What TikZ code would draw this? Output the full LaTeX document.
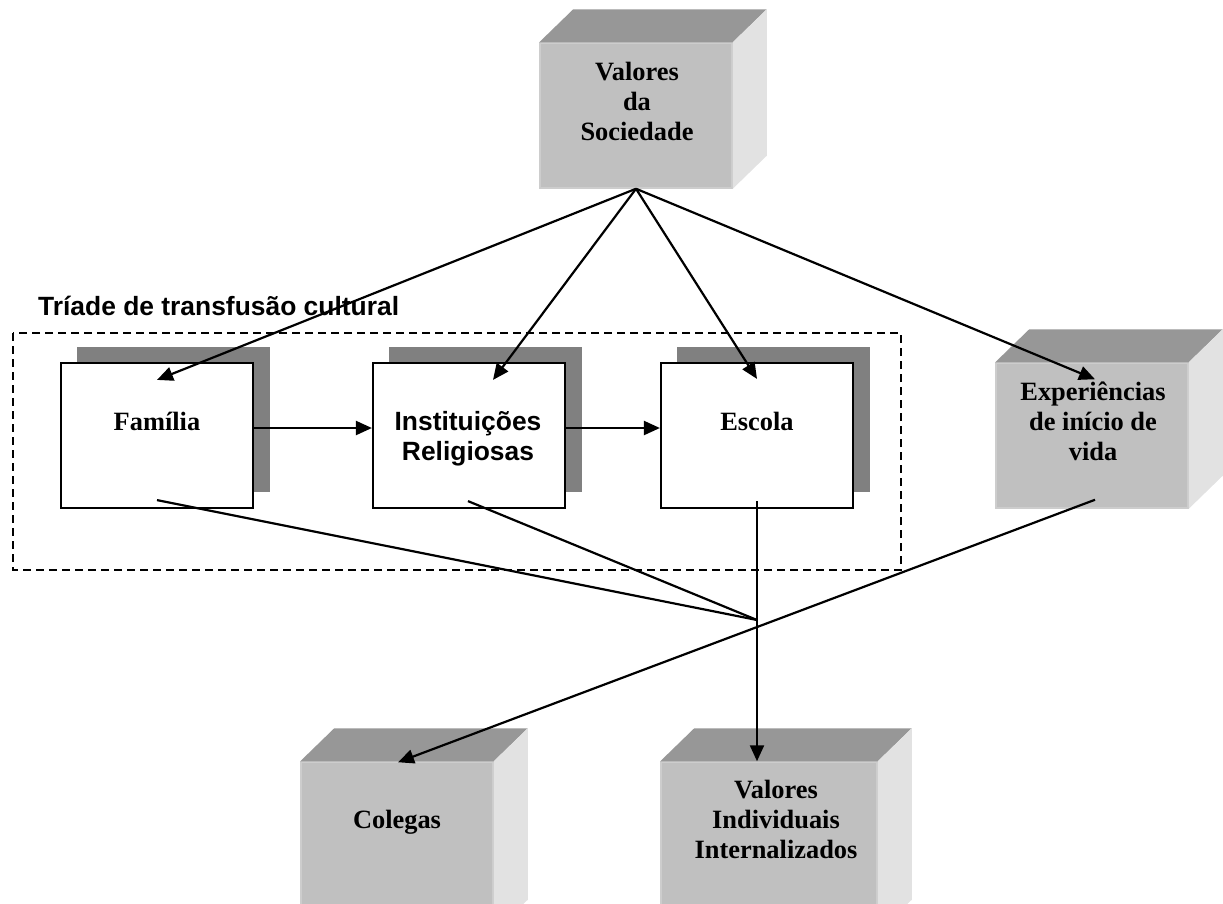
\documentclass[tikz,border=0pt]{standalone}
\usepackage{fontspec}
\setmainfont{Liberation Serif}
\setsansfont{Liberation Sans}
\usetikzlibrary{arrows.meta,calc}

\definecolor{frontgrey}{HTML}{C0C0C0}
\definecolor{rimgrey}{HTML}{CDCDCD}
\definecolor{topgrey}{HTML}{979797}
\definecolor{sidegrey}{HTML}{E2E2E2}
\definecolor{shadowgrey}{HTML}{808080}

\tikzset{
  cubefront/.style={rectangle, inner sep=0pt, fill=frontgrey, draw=rimgrey, line width=1.5pt},
  cubetop/.style={fill=topgrey},
  cubeside/.style={fill=sidegrey},
  shadowbox/.style={fill=shadowgrey},
  plainbox/.style={rectangle, inner sep=0pt, fill=white, draw=black, line width=2.2pt,
    minimum width=192pt, minimum height=145pt},
  serifbold/.style={inner sep=0pt, align=center,
    font=\rmfamily\bfseries\fontsize{26.4}{30}\selectfont},
  sansbold/.style={inner sep=0pt, align=center,
    font=\sffamily\bfseries\fontsize{26.4}{30}\selectfont},
  link/.style={line width=2.2pt, draw=black},
  arrowlink/.style={link, -{Triangle[length=16pt,width=14pt]}},
  triadframe/.style={draw=black, line width=1.8pt, dash pattern=on 8pt off 5pt},
}

% top and right faces of a three-dimensional box built on a front-face node
\newcommand{\cubefaces}[1]{%
  \fill[cubetop] (#1.north west) -- ++(34,-33) -- ($(#1.north east)+(34,-33)$) -- (#1.north east) -- cycle;
  \fill[cubeside] (#1.north east) -- ++(34,-33) -- ($(#1.south east)+(34,-33)$) -- (#1.south east) -- cycle;
}

\begin{document}
\begin{tikzpicture}[x=1pt, y=-1pt]
\useasboundingbox (0,0) rectangle (1223,903);
\clip (0,0) rectangle (1223,903);

% labels are anchored at the baseline of their last line
\node[cubefront, minimum width=192pt, minimum height=145pt] (vs) at (636,115.5) {};
\cubefaces{vs}
\node[serifbold, anchor=base] (vs-text) at (637,140) {Valores\\da\\Sociedade};

\node[cubefront, minimum width=192pt, minimum height=145pt] (exp) at (1092,435.5) {};
\cubefaces{exp}
\node[serifbold, anchor=base] (exp-text) at (1093,460) {Experiências\\de início de\\vida};

\node[cubefront, minimum width=192pt, minimum height=170pt] (col) at (397,847) {};
\cubefaces{col}
\node[serifbold, anchor=base] (col-text) at (397,828) {Colegas};

\node[cubefront, minimum width=216pt, minimum height=170pt] (vi) at (769,847) {};
\cubefaces{vi}
\node[serifbold, anchor=base] (vi-text) at (776,858) {Valores\\Individuais\\Internalizados};

% the cultural transfusion triad
\node[sansbold, anchor=base west] (triad-title) at (38,315) {Tríade de transfusão cultural};
\draw[triadframe] (13,333) rectangle (901,570);

\fill[shadowbox] (77,347) rectangle (270,492);
\fill[shadowbox] (389,347) rectangle (582,492);
\fill[shadowbox] (677,347) rectangle (870,492);

\node[plainbox] (fam) at (157,435.5) {};
\node[plainbox] (inst) at (469,435.5) {};
\node[plainbox] (esc) at (757,435.5) {};

\node[serifbold, anchor=base] (fam-text) at (157,430) {Família};
\node[sansbold, anchor=base] (inst-text) at (468,460) {Instituições\\Religiosas};
\node[serifbold, anchor=base] (esc-text) at (757,430) {Escola};

% connectors
\coordinate (conv) at (757,620);

\draw[arrowlink] (vs.south) -- ($(fam.north)+(0,18)$);
\draw[arrowlink] (vs.south) -- ($(inst.north)+(24,18)$);
\draw[arrowlink] (vs.south) -- ($(esc.north)+(0,17)$);
\draw[arrowlink] (vs.south) -- ($(exp.north)+(3,17)$);

\draw[arrowlink] ($(fam.east)+(0,-7.5)$) -- ($(inst.west)+(0,-7.5)$);
\draw[arrowlink] ($(inst.east)+(0,-7.5)$) -- ($(esc.west)+(0,-7.5)$);

\draw[link] ($(fam.south)+(0,-9)$) -- (conv);
\draw[link] ($(inst.south)+(-1,-8)$) -- (conv);
\draw[arrowlink] ($(esc.south)+(0,-8)$) -- (esc.south |- vi.north);

\draw[arrowlink] ($(exp.south)+(3,-9)$) -- ($(col.north)+(1,1)$);
\end{tikzpicture}
\end{document}
